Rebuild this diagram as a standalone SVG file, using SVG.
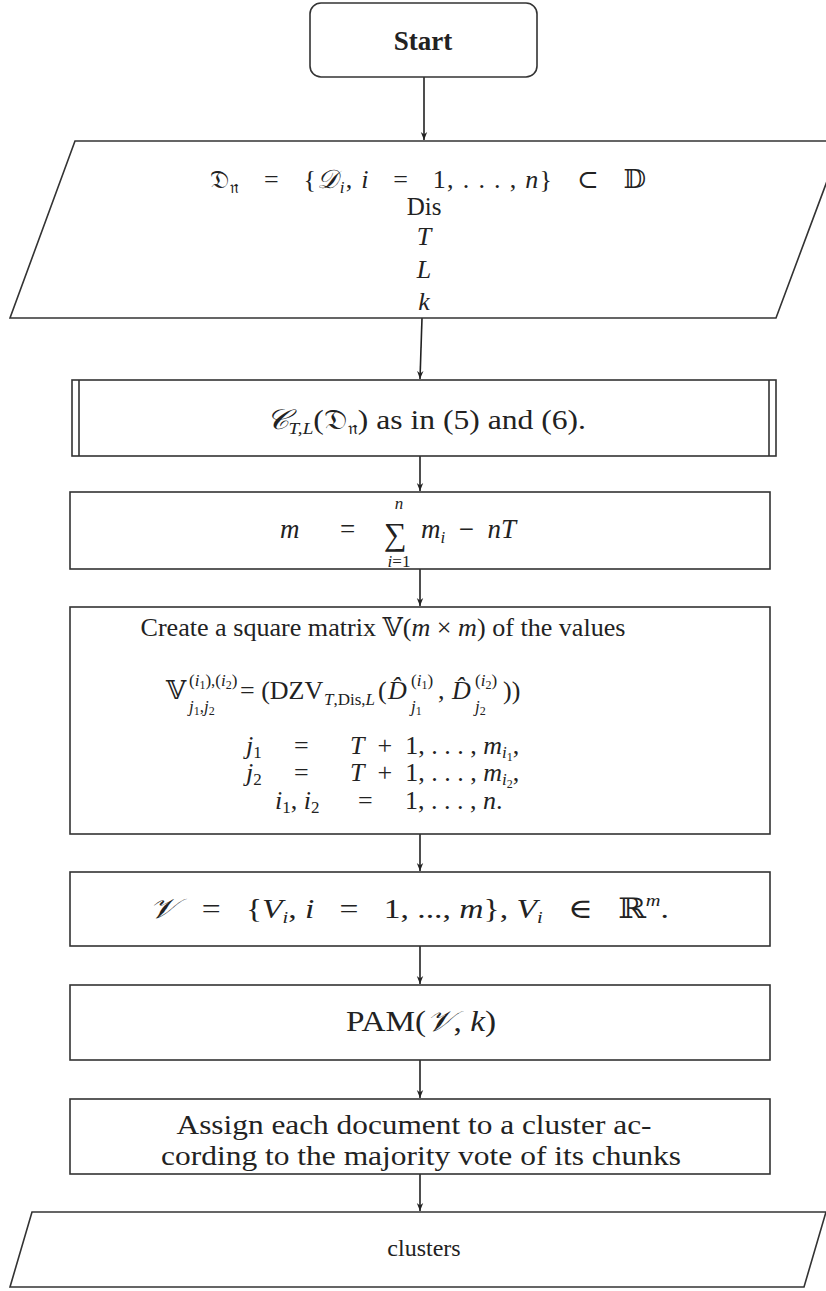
<svg xmlns="http://www.w3.org/2000/svg" width="826" height="1291" viewBox="0 0 826 1291">
<style>
.n{fill:#fff;stroke:#333;stroke-width:1.6}
.c{stroke:#222;stroke-width:1.6;fill:none;marker-end:url(#ah)}
text{font-family:"Liberation Serif","Times New Roman","DejaVu Serif",serif;font-size:26px;fill:#222}
.m{text-anchor:middle}
.i{font-style:italic}
.s{font-size:17px}
.t{font-size:12px}
.b{font-weight:bold}
.L{font-size:27px}
</style>
<defs>
<marker id="ah" viewBox="0 0 10 10" refX="10" refY="5" markerWidth="8" markerHeight="8" orient="auto" markerUnits="userSpaceOnUse">
<path d="M0,1 L10,5 L0,9 L3,5 Z" fill="#222"/>
</marker>
</defs>
<rect width="826" height="1291" fill="#fff"/>
<g id="connectors">
<line class="c" x1="424" y1="77" x2="424" y2="140"/>
<line class="c" x1="422" y1="318" x2="420" y2="379"/>
<line class="c" x1="420" y1="456" x2="420" y2="491"/>
<line class="c" x1="420" y1="569" x2="420" y2="606"/>
<line class="c" x1="420" y1="834" x2="420" y2="871"/>
<line class="c" x1="420" y1="946" x2="420" y2="984"/>
<line class="c" x1="420" y1="1060" x2="420" y2="1098"/>
<line class="c" x1="420" y1="1174" x2="420" y2="1211"/>
</g>
<g id="start">
<rect class="n" x="310" y="3" width="227" height="74" rx="11"/>
<text class="m b" x="423" y="50" style="font-size:27px">Start</text>
</g>
<g id="input">
<polygon class="n" points="75,141 842,141 776,318 10,318"/>
<text class="m" x="428" y="188" xml:space="preserve" textLength="436" lengthAdjust="spacing"><tspan>𝔇</tspan><tspan class="s" dy="5">𝔫</tspan><tspan dy="-5">   =   {</tspan><tspan class="i">𝒟</tspan><tspan class="s i" dy="5">i</tspan><tspan dy="-5">, </tspan><tspan class="i">i</tspan><tspan>   =   1, . . . , </tspan><tspan class="i">n</tspan><tspan>}   ⊂   𝔻</tspan></text>
<text class="m" x="424" y="215" style="font-size:25px">Dis</text>
<text class="m i" x="424" y="245">T</text>
<text class="m i" x="424" y="278">L</text>
<text class="m i" x="424" y="310">k</text>
</g>
<g id="chunks">
<rect class="n" x="72" y="380" width="704" height="76"/>
<line class="n" x1="79" y1="380" x2="79" y2="456"/>
<line class="n" x1="769" y1="380" x2="769" y2="456"/>
<text class="m" x="426" y="429" style="font-size:28px" textLength="320" lengthAdjust="spacingAndGlyphs"><tspan class="i">𝒞</tspan><tspan class="s i" dy="5">T,L</tspan><tspan dy="-5">(𝔇</tspan><tspan class="s" dy="5">𝔫</tspan><tspan dy="-5">) as in (5) and (6).</tspan></text>
</g>
<g id="msum">
<rect class="n" x="70" y="492" width="700" height="77"/>
<text class="i" x="280" y="538" style="font-size:27px">m</text>
<text x="340" y="538" style="font-size:27px">=</text>
<text x="384" y="545" style="font-size:32px">∑</text>
<text class="m s i" x="399" y="509">n</text>
<text class="m s" x="399" y="567"><tspan class="i">i</tspan>=1</text>
<text x="421" y="538" style="font-size:27px" xml:space="preserve"><tspan class="i">m</tspan><tspan class="s i" dy="5">i</tspan><tspan dy="-5">  −  </tspan><tspan class="i">nT</tspan></text>
</g>
<g id="matrix">
<rect class="n" x="70" y="607" width="700" height="227"/>
<text class="m" x="383" y="636" textLength="485" lengthAdjust="spacingAndGlyphs">Create a square matrix 𝕍(<tspan class="i">m</tspan> × <tspan class="i">m</tspan>) of the values</text>
<text x="166" y="699">𝕍</text>
<text class="s" x="189" y="686">(<tspan class="i">i</tspan><tspan class="t" dy="3">1</tspan><tspan dy="-3">),(</tspan><tspan class="i">i</tspan><tspan class="t" dy="3">2</tspan><tspan dy="-3">)</tspan></text>
<text class="s i" x="189" y="712">j<tspan class="t" font-style="normal" dy="3">1</tspan><tspan font-style="normal" dy="-3">,</tspan>j<tspan class="t" font-style="normal" dy="3">2</tspan></text>
<text x="240" y="699" xml:space="preserve">= (DZV</text>
<text class="s" x="324" y="705"><tspan class="i">T</tspan>,Dis,<tspan class="i">L</tspan></text>
<text x="378" y="699">(</text>
<text class="i" x="388" y="699">D̂</text>
<text class="s" x="411" y="686">(<tspan class="i">i</tspan><tspan class="t" dy="3">1</tspan><tspan dy="-3">)</tspan></text>
<text class="s i" x="411" y="712">j<tspan class="t" font-style="normal" dy="3">1</tspan></text>
<text x="438" y="699">,</text>
<text class="i" x="452" y="699">D̂</text>
<text class="s" x="475" y="686">(<tspan class="i">i</tspan><tspan class="t" dy="3">2</tspan><tspan dy="-3">)</tspan></text>
<text class="s i" x="475" y="712">j<tspan class="t" font-style="normal" dy="3">2</tspan></text>
<text x="503" y="699">))</text>
<text class="i" x="246" y="754">j<tspan class="s" font-style="normal" dy="4">1</tspan></text>
<text x="294" y="754">=</text>
<text x="350" y="754" xml:space="preserve"><tspan class="i">T</tspan>  +  1, . . . , <tspan class="i">m</tspan><tspan class="s i" dy="4">i</tspan><tspan class="t" dy="3">1</tspan><tspan dy="-7">,</tspan></text>
<text class="i" x="246" y="781">j<tspan class="s" font-style="normal" dy="4">2</tspan></text>
<text x="294" y="781">=</text>
<text x="350" y="781" xml:space="preserve"><tspan class="i">T</tspan>  +  1, . . . , <tspan class="i">m</tspan><tspan class="s i" dy="4">i</tspan><tspan class="t" dy="3">2</tspan><tspan dy="-7">,</tspan></text>
<text x="275" y="809"><tspan class="i">i</tspan><tspan class="s" dy="4">1</tspan><tspan dy="-4">, </tspan><tspan class="i">i</tspan><tspan class="s" dy="4">2</tspan></text>
<text x="358" y="809">=</text>
<text x="405" y="809" xml:space="preserve">1, . . . , <tspan class="i">n</tspan>.</text>
</g>
<g id="vectors">
<rect class="n" x="70" y="872" width="700" height="74"/>
<text class="m" x="409" y="918" xml:space="preserve" style="font-size:28px" textLength="520" lengthAdjust="spacingAndGlyphs"><tspan class="i">𝒱</tspan><tspan>   =   {</tspan><tspan class="i">V</tspan><tspan class="s i" dy="5">i</tspan><tspan dy="-5">, </tspan><tspan class="i">i</tspan><tspan>   =   1, ..., </tspan><tspan class="i">m</tspan><tspan>}, </tspan><tspan class="i">V</tspan><tspan class="s i" dy="5">i</tspan><tspan dy="-5">   ∈   ℝ</tspan><tspan class="s i" dy="-12">m</tspan><tspan dy="12">.</tspan></text>
</g>
<g id="pam">
<rect class="n" x="70" y="985" width="700" height="75"/>
<text class="m" x="421" y="1031" style="font-size:29px" textLength="150" lengthAdjust="spacingAndGlyphs">PAM(<tspan class="i">𝒱</tspan>, <tspan class="i">k</tspan>)</text>
</g>
<g id="assign">
<rect class="n" x="70" y="1099" width="700" height="75"/>
<text class="m L" x="414" y="1134" textLength="475" lengthAdjust="spacingAndGlyphs">Assign each document to a cluster ac-</text>
<text class="m L" x="421" y="1165" textLength="520" lengthAdjust="spacingAndGlyphs">cording to the majority vote of its chunks</text>
</g>
<g id="output">
<polygon class="n" points="32,1212 826,1212 804,1287 10,1287"/>
<text class="m" x="424" y="1256" style="font-size:24px">clusters</text>
</g>
</svg>
